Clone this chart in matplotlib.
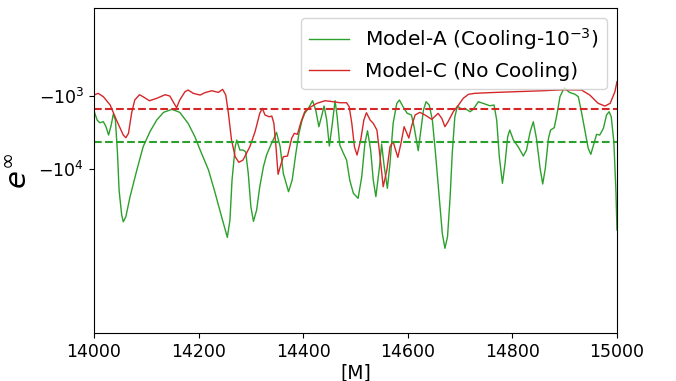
import matplotlib
matplotlib.use("Agg")
import matplotlib.pyplot as plt
from matplotlib.ticker import NullLocator

# time axis [M] and energy samples for the two runs
t_a = [14000, 14006, 14011, 14018, 14023, 14028, 14033, 14037, 14041, 14045,
       14048, 14053, 14056, 14061, 14069, 14082, 14094, 14107, 14120, 14133,
       14149, 14164, 14180, 14193, 14203, 14219, 14231, 14244, 14255, 14260,
       14264, 14270, 14273, 14279, 14285, 14290, 14295, 14300, 14305, 14311,
       14317, 14324, 14330, 14338, 14344, 14349, 14356, 14362, 14372, 14379,
       14386, 14392, 14398, 14403, 14410, 14418, 14424, 14430, 14435, 14440,
       14445, 14450, 14455, 14461, 14465, 14470, 14477, 14483, 14489, 14496,
       14505, 14512, 14518, 14523, 14529, 14534, 14539, 14546, 14550, 14555,
       14561, 14566, 14572, 14579, 14584, 14591, 14599, 14607, 14612, 14620,
       14625, 14630, 14635, 14641, 14647, 14653, 14660, 14666, 14671, 14676,
       14681, 14685, 14690, 14695, 14703, 14709, 14719, 14725, 14735, 14748,
       14757, 14765, 14770, 14775, 14781, 14786, 14791, 14795, 14802, 14811,
       14821, 14827, 14834, 14840, 14846, 14853, 14858, 14863, 14869, 14873,
       14880, 14885, 14891, 14899, 14909, 14920, 14926, 14932, 14939, 14945,
       14950, 14956, 14961, 14967, 14974, 14980, 14985, 14989, 14994, 14998,
       15000]
e_a = [-1587, -2125, -2313, -2242, -2620, -3405, -2487, -1760, -2125, -6050,
       -19150, -42000, -51900, -44300, -23600, -10220, -4920, -3070, -2125, -1669,
       -1519, -1669, -2358, -3590, -5454, -10220, -20200, -44300, -84700, -49200,
       -14000, -4920, -3984, -5454, -5454, -5750, -11340, -32400, -51200, -35900,
       -17280, -9210, -6380, -4660, -3780, -3130, -4920, -11340, -20200, -14000,
       -6050, -3228, -2125, -1722, -1472, -1159, -1552, -2620, -1917, -1369,
       -2125, -4810, -2620, -1159, -1917, -4660, -6050, -7466, -14000, -21260,
       -24860, -12620, -4420, -2975, -5454, -14000, -23600, -9210, -4520, -9210,
       -18160, -8280, -2358, -1258, -1134, -1400, -1722, -1816, -2620, -5570,
       -2910, -1552, -1196, -1327, -2125, -6050, -23600, -74600, -119600, -83100,
       -23600, -6050, -1917, -1369, -1519, -1472, -1637, -1519, -1196, -1286,
       -1356, -1327, -2125, -6730, -15520, -8280, -3590, -2910, -3984, -4920,
       -6590, -5454, -3070, -2242, -3780, -9690, -15870, -9690, -3780, -2910,
       -2707, -1816, -1022, -898, -955, -979, -1022, -1637, -3070, -5170,
       -6240, -4420, -3330, -3405, -2760, -1816, -1637, -1917, -4200, -20200,
       -67300]

t_c = [14000, 14008, 14018, 14031, 14043, 14056, 14061, 14066, 14072, 14078,
       14087, 14094, 14106, 14120, 14136, 14145, 14155, 14158, 14164, 14174,
       14180, 14190, 14203, 14212, 14225, 14238, 14246, 14252, 14257, 14263,
       14270, 14277, 14285, 14298, 14308, 14317, 14322, 14327, 14335, 14340,
       14344, 14348, 14352, 14358, 14362, 14370, 14378, 14383, 14389, 14396,
       14403, 14410, 14426, 14442, 14458, 14470, 14483, 14488, 14493, 14498,
       14503, 14510, 14516, 14521, 14528, 14534, 14541, 14547, 14553, 14560,
       14566, 14572, 14581, 14587, 14593, 14602, 14607, 14614, 14623, 14633,
       14646, 14658, 14665, 14671, 14677, 14687, 14697, 14706, 14716, 14728,
       14754, 14805, 14859, 14897, 14932, 14948, 14964, 14977, 14987, 14996,
       15000]
e_c = [-988, -967, -1022, -1327, -2125, -3405, -3707, -3228, -1706, -1134,
       -984, -1022, -1159, -1075, -984, -1000, -1327, -1444, -1134, -947,
       -926, -967, -988, -959, -935, -955, -918, -988, -1706, -3984,
       -6730, -8030, -7466, -4920, -3070, -1722, -1472, -1816, -1917, -1875,
       -2358, -4920, -11700, -8280, -6730, -6590, -3780, -3228, -3330, -2242,
       -1637, -1472, -1258, -1159, -1196, -1234, -1234, -1400, -2358, -4920,
       -6380, -3984, -2125, -1690, -2125, -2358, -2910, -6730, -17280, -10220,
       -4920, -4200, -6860, -4420, -2620, -3740, -2620, -1816, -1669, -1816,
       -2080, -1722, -2015, -2620, -2242, -1637, -1327, -1075, -979, -967,
       -959, -947, -935, -923, -926, -988, -1258, -1369, -1258, -947,
       -824]

mean_a = -4300
mean_c = -1500

fig = plt.figure(figsize=(6.76, 3.81), dpi=100)
ax = fig.add_axes([0.139, 0.126, 0.7737, 0.853])

ax.plot(t_a, e_a, color="tab:green", lw=1.0, label=r"Model-A (Cooling-$10^{-3}$)")
ax.plot(t_c, e_c, color="tab:red", lw=1.0, label="Model-C (No Cooling)")
ax.axhline(mean_a, color="tab:green", ls="--", lw=1.5)
ax.axhline(mean_c, color="tab:red", ls="--", lw=1.5)

ax.set_yscale("symlog", linthresh=1000)
ax.set_ylim(-1.71e6, 81)
ax.set_xlim(14000, 15000)
ax.set_yticks([-1e4, -1e3])
ax.yaxis.set_minor_locator(NullLocator())
ax.tick_params(labelsize=12.5)

ax.set_xlabel("[M]", fontsize=13.5, labelpad=2)
ax.set_ylabel(r"$e^{\infty}$", fontsize=21)
ax.legend(loc="upper right", fontsize=14.5)

fig.savefig("out.png", dpi=100)
